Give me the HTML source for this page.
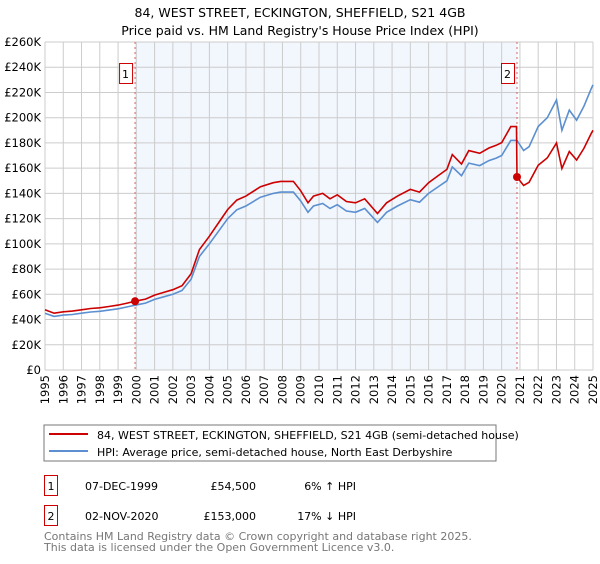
<!DOCTYPE html>
<html><head><meta charset="utf-8"><style>
body{margin:0;background:#fff;width:600px;height:560px;overflow:hidden;font-family:"DejaVu Sans","Liberation Sans",sans-serif}
svg text{font-family:"DejaVu Sans","Liberation Sans",sans-serif}
</style></head><body>
<svg id="c" width="600" height="560" xmlns="http://www.w3.org/2000/svg">
<text x="300" y="17" text-anchor="middle" font-size="12.5">84, WEST STREET, ECKINGTON, SHEFFIELD, S21 4GB</text>
<text x="300" y="35" text-anchor="middle" font-size="12.5">Price paid vs. HM Land Registry's House Price Index (HPI)</text>
<g id="plot"></g>
<rect x="44" y="425" width="452" height="36" fill="#fff" stroke="#777"/>
<line x1="49" y1="434" x2="88" y2="434" stroke="#cc0000" stroke-width="2"/>
<text x="97" y="439" font-size="11">84, WEST STREET, ECKINGTON, SHEFFIELD, S21 4GB (semi-detached house)</text>
<line x1="49" y1="451" x2="88" y2="451" stroke="#5b8fd0" stroke-width="2"/>
<text x="97" y="456" font-size="11">HPI: Average price, semi-detached house, North East Derbyshire</text>
<g>
<rect x="44.5" y="475.5" width="13" height="20" fill="none" stroke="#cc0000"/>
<text x="51" y="490" font-size="11" text-anchor="middle">1</text>
<text x="85" y="490" font-size="11">07-DEC-1999</text>
<text x="256" y="490" font-size="11" text-anchor="end">£54,500</text>
<text x="356" y="490" font-size="11" text-anchor="end">6% ↑ HPI</text></g>
<g>
<rect x="44.5" y="505.5" width="13" height="20" fill="none" stroke="#cc0000"/>
<text x="51" y="520" font-size="11" text-anchor="middle">2</text>
<text x="85" y="520" font-size="11">02-NOV-2020</text>
<text x="256" y="520" font-size="11" text-anchor="end">£153,000</text>
<text x="356" y="520" font-size="11" text-anchor="end">17% ↓ HPI</text></g>
<text x="44" y="540" font-size="11" fill="#777">Contains HM Land Registry data © Crown copyright and database right 2025.</text>
<text x="44" y="551" font-size="11" fill="#777">This data is licensed under the Open Government Licence v3.0.</text>
</svg>
<script>
const years=[1995,1995.5,1996,1996.5,1997,1997.5,1998,1998.5,1999,1999.5,1999.93,2000.5,2001,2001.5,2002,2002.5,2003,2003.45,2004,2004.7,2005,2005.5,2006,2006.8,2007.5,2007.9,2008.6,2009.0,2009.4,2009.7,2010.2,2010.6,2011,2011.5,2012,2012.5,2013.2,2013.7,2014.3,2015,2015.5,2016,2016.5,2017,2017.3,2017.8,2018.2,2018.8,2019.3,2019.7,2020,2020.5,2020.84,2021.2,2021.5,2022,2022.5,2023,2023.3,2023.7,2024.1,2024.5,2024.9,2025];
const hpi=[45000,42500,43500,44000,45000,46000,46500,47500,48500,50000,51400,53000,56000,58000,60000,63000,72000,90000,100000,114000,120000,127000,130000,137000,140000,141000,141000,134000,125000,130000,132000,128000,131000,126000,125000,128000,117000,125000,130000,135000,133000,140000,145000,150000,161000,154000,164000,162000,166000,168000,170000,182000,182000,174000,177000,193000,200000,214000,190000,206000,198000,209000,223000,226000];
const yTicks=[0,20000,40000,60000,80000,100000,120000,140000,160000,180000,200000,220000,240000,260000];
const xTickYears=[1995,1996,1997,1998,1999,2000,2001,2002,2003,2004,2005,2006,2007,2008,2009,2010,2011,2012,2013,2014,2015,2016,2017,2018,2019,2020,2021,2022,2023,2024,2025];
const saleYears=[1999.93,2020.84];
const salePrices=[54500,153000];
const X0=45,X1=593,Y0=370,Y1=42;
const xs=y=>X0+(y-1995)/30*(X1-X0);
const ys=v=>Y0-v/260000*(Y0-Y1);
const NS="http://www.w3.org/2000/svg";
const g=document.getElementById('plot');
function mk(t,a){const e=document.createElementNS(NS,t);for(const k in a)e.setAttribute(k,a[k]);g.appendChild(e);return e;}
function hpiAt(y){for(let i=1;i<years.length;i++){if(y<=years[i]){const t=(y-years[i-1])/(years[i]-years[i-1]);return hpi[i-1]+t*(hpi[i]-hpi[i-1]);}}return hpi[hpi.length-1];}
const shade=mk('rect',{x:xs(saleYears[0]),y:Y1,width:xs(saleYears[1])-xs(saleYears[0]),height:Y0-Y1,fill:'#f2f6fd'});


yTicks.forEach(v=>{const l=mk('line',{x1:X0,x2:X1,y1:ys(v),y2:ys(v),stroke:'#ccc'});


const t=mk('text',{x:41,y:ys(v)+4,'text-anchor':'end','font-size':'11.5'});t.textContent=v===0?'£0':'£'+(v/1000)+'K';

});
xTickYears.forEach(y=>{const l=mk('line',{x1:xs(y),x2:xs(y),y1:Y1,y2:Y0,stroke:'#ccc'});


const tx=xs(y)+4,ty=375;
const t=mk('text',{x:tx,y:ty,'text-anchor':'end','font-size':'11.5',transform:'rotate(-90 '+tx+' '+ty+')'});t.textContent=y;

});
saleYears.forEach((y,i)=>{const l=mk('line',{x1:xs(y),x2:xs(y),y1:Y1,y2:Y0,stroke:'#e06060','stroke-dasharray':'2,3'});


const r=mk('rect',{x:xs(y)-16+0.5,y:63.5,width:13,height:20,fill:'#fff',stroke:'#cc0000'});


const t=mk('text',{x:xs(y)-9.5,y:78,'text-anchor':'middle','font-size':'11'});t.textContent=i+1;

});
const r1=salePrices[0]/hpiAt(saleYears[0]),r2=salePrices[1]/hpiAt(saleYears[1]);
let bp='',rp='';
years.forEach((y,i)=>{bp+=(i?'L':'M')+xs(y).toFixed(1)+','+ys(hpi[i]).toFixed(1);});
years.forEach((y,i)=>{if(y<saleYears[1])rp+=(i?'L':'M')+xs(y).toFixed(1)+','+ys(hpi[i]*r1).toFixed(1);});
rp+='L'+xs(saleYears[1]-0.03).toFixed(1)+','+ys(hpiAt(saleYears[1])*r1).toFixed(1);
years.forEach((y,i)=>{if(y>=saleYears[1])rp+='L'+xs(y).toFixed(1)+','+ys(hpi[i]*r2).toFixed(1);});
const b=mk('path',{d:bp,fill:'none',stroke:'#5b8fd0','stroke-width':1.6});


const rl=mk('path',{d:rp,fill:'none',stroke:'#cc0000','stroke-width':1.6});


saleYears.forEach((y,i)=>{const c=mk('circle',{cx:xs(y),cy:ys(salePrices[i]),r:4,fill:'#cc0000'});

});
</script>
</body></html>
